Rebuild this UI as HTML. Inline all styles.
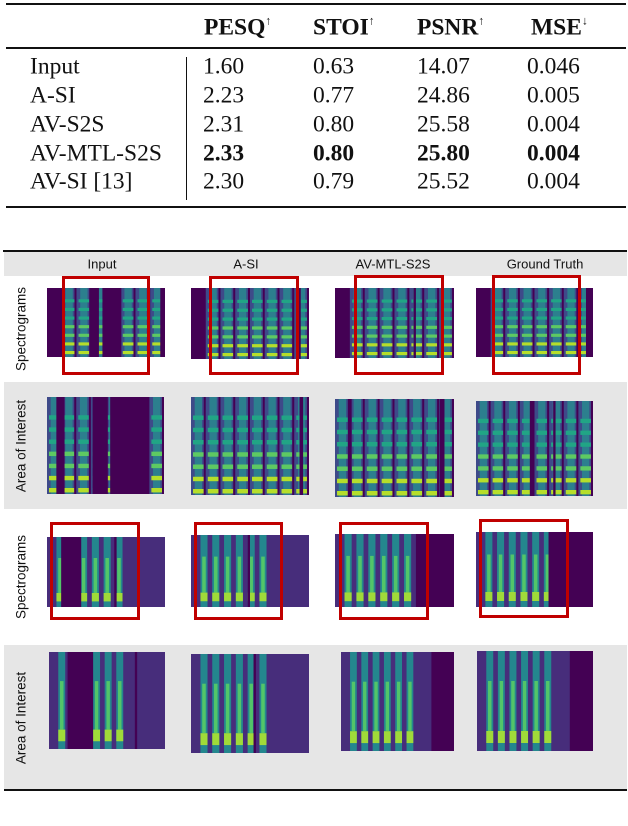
<!DOCTYPE html>
<html><head><meta charset="utf-8">
<style>
html,body{margin:0;padding:0;background:#fff;}
#root{position:relative;width:628px;height:826px;overflow:hidden;font-family:"Liberation Serif",serif;}
.abs{position:absolute;}
.t{position:absolute;font-size:23.5px;line-height:1;white-space:nowrap;color:#111;transform:translateY(-50%);}
.b{font-weight:bold;}
sup{font-size:12px;font-weight:normal;vertical-align:top;position:relative;top:-2px;}
.rule{position:absolute;background:#111;}
.lab{position:absolute;font-family:"Liberation Sans",sans-serif;font-size:13px;color:#111;white-space:nowrap;transform:translate(-50%,-50%);}
.rot{position:absolute;font-family:"Liberation Sans",sans-serif;font-size:13.5px;color:#111;white-space:nowrap;transform:translate(-50%,-50%) rotate(-90deg);}
.box{position:absolute;border:3px solid #c00000;box-sizing:border-box;}
svg.sp{position:absolute;}
</style></head><body>
<div id="root">
<!-- table -->
<div class="rule" style="left:6px;top:3px;width:620px;height:2px"></div>
<div class="rule" style="left:6px;top:47px;width:620px;height:1.5px"></div>
<div class="rule" style="left:6px;top:206px;width:620px;height:2px"></div>
<div class="rule" style="left:186px;top:57px;width:1px;height:143px"></div>
<div class="t b" style="left:204px;top:28px">PESQ<sup>↑</sup></div>
<div class="t b" style="left:313px;top:28px">STOI<sup>↑</sup></div>
<div class="t b" style="left:417px;top:28px">PSNR<sup>↑</sup></div>
<div class="t b" style="left:531px;top:28px">MSE<sup>↓</sup></div>
<div id="rows"></div>

<!-- figure -->
<div class="rule" style="left:3px;top:250px;width:624px;height:2px"></div>
<div class="abs" style="left:4px;top:252px;width:623px;height:24px;background:#e6e6e6"></div>
<div class="abs" style="left:4px;top:382px;width:623px;height:127px;background:#e6e6e6"></div>
<div class="abs" style="left:4px;top:645px;width:623px;height:145px;background:#e6e6e6"></div>
<div class="rule" style="left:4px;top:789px;width:623px;height:2px"></div>
<div class="lab" style="left:102px;top:264px">Input</div>
<div class="lab" style="left:246px;top:264px">A-SI</div>
<div class="lab" style="left:393px;top:264px">AV-MTL-S2S</div>
<div class="lab" style="left:545px;top:264px">Ground Truth</div>
<div class="rot" style="left:21px;top:329px">Spectrograms</div>
<div class="rot" style="left:21px;top:446px">Area of Interest</div>
<div class="rot" style="left:21px;top:577px">Spectrograms</div>
<div class="rot" style="left:21px;top:718px">Area of Interest</div>
<div id="figs"></div>
</div>
<script>
const rowNames=["Input","A-SI","AV-S2S","AV-MTL-S2S","AV-SI [13]"];
const pesq=["1.60","2.23","2.31","2.33","2.30"];
const stoi=["0.63","0.77","0.80","0.80","0.79"];
const psnr=["14.07","24.86","25.58","25.80","25.52"];
const mse=["0.046","0.005","0.004","0.004","0.004"];
const boldRow=3;
const rowsEl=document.getElementById('rows');
const rowY=[67,96,125,154,182];
rowNames.forEach((n,i)=>{
  const cells=[[n,30],[pesq[i],203],[stoi[i],313],[psnr[i],417],[mse[i],527]];
  cells.forEach((c,j)=>{
    const d=document.createElement('div');
    d.className='t'+(j>0&&i===boldRow?' b':'');
    d.style.left=c[1]+'px';d.style.top=rowY[i]+'px';d.textContent=c[0];
    
    
    rowsEl.appendChild(d);
  });
});
// spectrogram panels: x,y,w,h, dark gap segments (fractions), style
const panels=[
 [47,288,118,69,[[0,0.15],[0.36,0.44],[0.47,0.63],[0.96,1]],'v'],
 [191,288,118,71,[[0,0.12],[0.9,0.93]],'v'],
 [335,288,119,70,[[0,0.12],[0.66,0.68]],'v'],
 [476,288,117,69,[[0,0.12],[0.94,1]],'v'],
 [47,397,117,97,[[0.08,0.15],[0.39,0.52],[0.54,0.86]],'v'],
 [191,397,118,98,[[0.92,0.95]],'v'],
 [335,399,119,98,[[0.12,0.14],[0.88,0.92]],'v'],
 [476,401,117,95,[[0.46,0.49],[0.66,0.68]],'v'],
 [47,537,118,70,[[0.12,0.29],[0.57,0.59]],'n'],
 [191,535,118,72,[[0.48,0.5]],'n'],
 [335,534,119,73,[[0.68,1.0]],'n'],
 [476,532,117,75,[[0.62,1.0]],'n'],
 [49,652,116,97,[[0.16,0.38],[0.74,0.76]],'n'],
 [191,654,118,99,[[0.53,0.55]],'n'],
 [341,652,113,99,[[0.8,1.0]],'n'],
 [477,651,116,100,[[0.8,1.0]],'n']
];
const boxes=[[62,276,88,99],[209,276,90,99],[354,275,90,100],[492,275,89,100],
 [50,522,90,98],[194,522,89,98],[339,522,90,98],[479,519,90,99]];
const figs=document.getElementById('figs');
const NS='http://www.w3.org/2000/svg';
panels.forEach((p,k)=>{
  const [x,y,w,h,gaps,st]=p;
  const s=document.createElementNS(NS,'svg');
  s.setAttribute('class','sp');s.setAttribute('width',w);s.setAttribute('height',h);
  s.style.left=x+'px';s.style.top=y+'px';
  
  
  let html='';
  if(st==='v'){
    html+=`<rect width="${w}" height="${h}" fill="#3e4a89"/>`;
    // vertical voiced columns
    for(let c=0;c<8;c++){
      const cx=(c+0.5)*w/8;
      html+=`<rect x="${cx-w/32}" y="0" width="${w/16}" height="${h}" fill="#2c7f8e"/>`;
      for(let b=0;b<7;b++){
        const by=h-6-b*h/8;
        const col=b<2?'#b5de2b':(b<4?'#5ec962':'#21a585');
        html+=`<rect x="${cx-w/22}" y="${by}" width="${w/11}" height="${h/22}" fill="${col}"/>`;
      }
      html+=`<rect x="${cx+w/22}" y="0" width="2" height="${h}" fill="#440154"/>`;
    }
  } else {
    html+=`<rect width="${w}" height="${h}" fill="#472d7b"/>`;
    for(let c=0;c<6;c++){
      const cx=w*0.08+c*w*0.1;
      html+=`<rect x="${cx}" y="0" width="${w*0.06}" height="${h}" fill="#24878e"/>`;
      html+=`<rect x="${cx+w*0.015}" y="${h*0.3}" width="${w*0.03}" height="${h*0.5}" fill="#52c569"/>`;
      html+=`<rect x="${cx}" y="${h*0.8}" width="${w*0.06}" height="${h*0.12}" fill="#a0da39"/>`;
    }
  }
  gaps.forEach(g=>{html+=`<rect x="${g[0]*w}" y="0" width="${(g[1]-g[0])*w}" height="${h}" fill="#440154"/>`;});
  s.innerHTML=html;
  figs.appendChild(s);
});
boxes.forEach(b=>{
  const d=document.createElement('div');
  d.className='box';
  d.style.left=b[0]+'px';d.style.top=b[1]+'px';d.style.width=b[2]+'px';d.style.height=b[3]+'px';
  
  
  figs.appendChild(d);
});
</script>
</body></html>
